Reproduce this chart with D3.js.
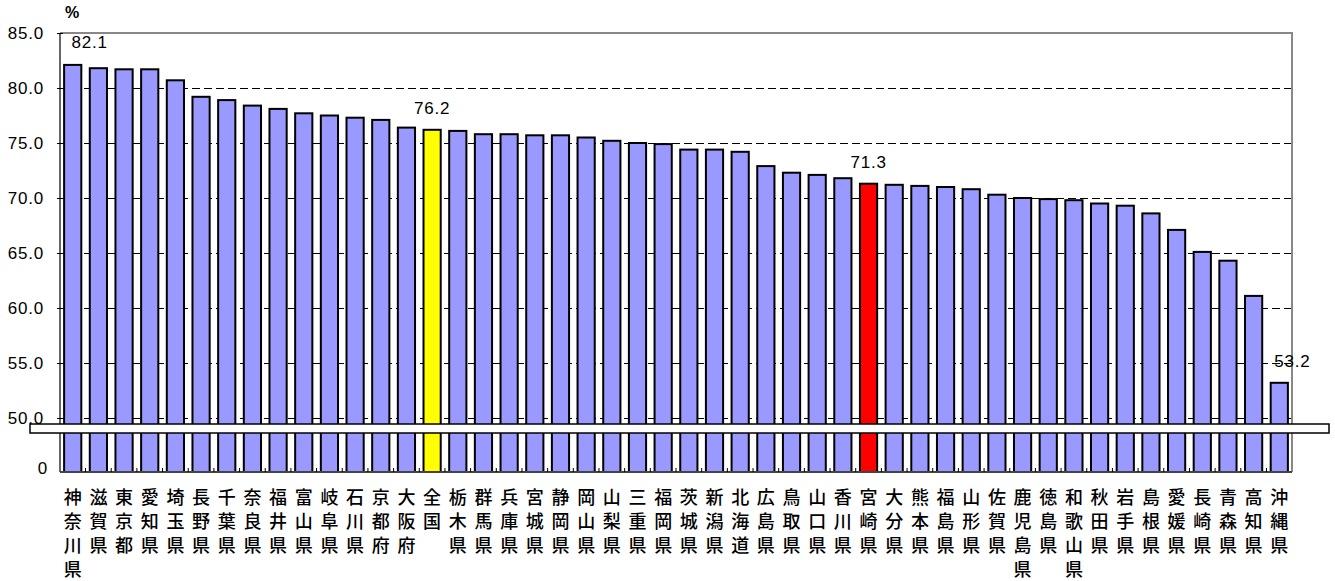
<!DOCTYPE html>
<html>
<head>
<meta charset="utf-8">
<script src="https://cdn.jsdelivr.net/npm/d3@7/dist/d3.min.js"></script>
<style>
  html, body { margin: 0; padding: 0; background: #fff; }
  svg { display: block; }
  .num { font-family: "Liberation Sans", Arial, sans-serif; font-size: 17px; letter-spacing: 0.8px; fill: #000; }
  .cat { font-family: "Noto Sans CJK JP", sans-serif; font-size: 18px; font-weight: 500; fill: #000; }
</style>
</head>
<body>
<svg id="chart" width="1335" height="581"></svg>
<script>
// Prefectures (plus the national figure), sorted by rate
const categories = [
  "神奈川県","滋賀県","東京都","愛知県","埼玉県","長野県","千葉県","奈良県","福井県","富山県",
  "岐阜県","石川県","京都府","大阪府","全国","栃木県","群馬県","兵庫県","宮城県","静岡県",
  "岡山県","山梨県","三重県","福岡県","茨城県","新潟県","北海道","広島県","鳥取県","山口県",
  "香川県","宮崎県","大分県","熊本県","福島県","山形県","佐賀県","鹿児島県","徳島県","和歌山県",
  "秋田県","岩手県","島根県","愛媛県","長崎県","青森県","高知県","沖縄県"
];
const values = [
  82.1, 81.8, 81.7, 81.7, 80.7, 79.2, 78.9, 78.4, 78.1, 77.7,
  77.5, 77.3, 77.1, 76.4, 76.2, 76.1, 75.8, 75.8, 75.7, 75.7,
  75.5, 75.2, 75.0, 74.9, 74.4, 74.4, 74.2, 72.9, 72.3, 72.1,
  71.8, 71.3, 71.2, 71.1, 71.0, 70.8, 70.3, 70.0, 69.9, 69.8,
  69.5, 69.3, 68.6, 67.1, 65.1, 64.3, 61.1, 53.2
];
const yTicks = [50, 55, 60, 65, 70, 75, 80, 85];
const labeled = ["神奈川県", "全国", "宮崎県", "沖縄県"];
const colorNational = "#ffff00";
const colorHome = "#ff0000";
const colorDefault = "#9999ff";
const homeName = "宮崎県";
const nationalName = "全国";
const unitLabel = "%";

const data = categories.map((c, i) => ({ name: c, value: values[i] }));

const svg = d3.select("#chart");
const plotL = 60, plotR = 1292, plotT = 33, plotB = 472;
const breakTop = 424, breakBottom = 433;

const x = d3.scaleBand().domain(categories).range([plotL, plotR])
  .paddingInner(0.33).paddingOuter(0.16);
// upper (broken) segment of the axis
const y = d3.scaleLinear().domain([50, 85]).range([418, plotT]);

// dashed grid lines
svg.append("g").selectAll("line").data(yTicks.filter(t => t !== 85)).join("line")
  .attr("x1", plotL).attr("x2", plotR)
  .attr("y1", d => Math.round(y(d)) + 0.5).attr("y2", d => Math.round(y(d)) + 0.5)
  .attr("stroke", "#000").attr("stroke-width", 1).attr("stroke-dasharray", "8,4");

// plot frame (top and right)
svg.append("path")
  .attr("d", `M${plotL},${plotT}H${plotR}V${plotB}`)
  .attr("fill", "none").attr("stroke", "#888").attr("stroke-width", 2);

// bars
svg.append("g").selectAll("rect").data(data).join("rect")
  .attr("x", d => x(d.name))
  .attr("y", d => y(d.value))
  .attr("width", x.bandwidth())
  .attr("height", d => plotB - y(d.value))
  .attr("fill", d => d.name === nationalName ? colorNational : d.name === homeName ? colorHome : colorDefault)
  .attr("stroke", "#000").attr("stroke-width", 2);

// left axis
const yAxis = d3.axisLeft(y).tickValues(yTicks).tickSize(3).tickFormat(d3.format(".1f"));
const ya = svg.append("g").attr("transform", `translate(${plotL},0)`).call(yAxis);
ya.select(".domain").remove();
ya.selectAll(".tick line").attr("stroke", "#000").attr("x2", 3).attr("x1", -3);
ya.selectAll(".tick text").attr("class", "num").attr("x", -16).attr("dy", "0.35em")
  .attr("fill", "#000");
svg.append("line").attr("x1", plotL).attr("x2", plotL).attr("y1", plotT).attr("y2", plotB)
  .attr("stroke", "#000").attr("stroke-width", 1.2);

// bottom axis with inward ticks at category boundaries
svg.append("line").attr("x1", plotL).attr("x2", plotR).attr("y1", plotB).attr("y2", plotB)
  .attr("stroke", "#444").attr("stroke-width", 2);
const step = x.step();
svg.append("g").selectAll("line").data(categories.slice(0, -1)).join("line")
  .attr("x1", d => x(d) + x.bandwidth() + (step - x.bandwidth()) / 2)
  .attr("x2", d => x(d) + x.bandwidth() + (step - x.bandwidth()) / 2)
  .attr("y1", plotB).attr("y2", plotB - 4)
  .attr("stroke", "#000").attr("stroke-width", 1);

// axis break band
svg.append("rect").attr("x", 30).attr("y", breakTop)
  .attr("width", 1299).attr("height", breakBottom - breakTop)
  .attr("fill", "#fff").attr("stroke", "#000").attr("stroke-width", 1.5);

// zero label below the break
svg.append("text").attr("class", "num").attr("x", 48).attr("y", plotB - 4)
  .attr("text-anchor", "end").attr("dy", "0.35em").text("0");

// unit label
svg.append("text").attr("x", 72).attr("y", 18).attr("text-anchor", "middle")
  .style("font-family", "Liberation Sans, Arial, sans-serif").style("font-size", "16px")
  .style("font-weight", "bold").text(unitLabel);

// value labels for highlighted bars
const lbl = data.filter(d => labeled.includes(d.name));
svg.append("g").selectAll("text").data(lbl).join("text")
  .attr("class", "num")
  .attr("x", d => {
    const cx = x(d.name) + x.bandwidth() / 2;
    const i = categories.indexOf(d.name);
    if (i === 0) return cx + 17;
    if (i === categories.length - 1) return cx + 13;
    return cx;
  })
  .attr("y", d => y(d.value) - (categories.indexOf(d.name) === 0 ? 17 : 16))
  .attr("text-anchor", "middle")
  .text(d => d.value.toFixed(1));

// category labels, written vertically one character per line
const cat = svg.append("g").selectAll("text").data(categories).join("text")
  .attr("class", "cat")
  .attr("text-anchor", "middle");
cat.each(function(d) {
  const t = d3.select(this);
  const cx = x(d) + x.bandwidth() / 2;
  Array.from(d).forEach((ch, i) => {
    t.append("tspan").attr("x", cx).attr("y", 504 + i * 24).text(ch);
  });
});
</script>
</body>
</html>
